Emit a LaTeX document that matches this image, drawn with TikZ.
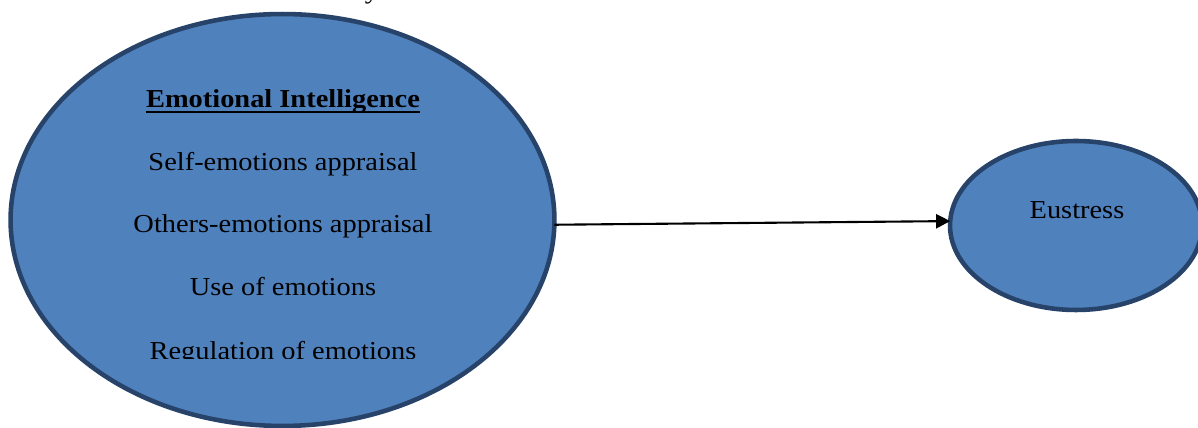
\documentclass[tikz,border=0pt]{standalone}
\usepackage{fontspec}
\setmainfont{Liberation Serif}[FakeStretch=1.1]
\usetikzlibrary{arrows.meta,shapes.geometric}
\definecolor{efill}{HTML}{4F81BD}
\definecolor{edraw}{HTML}{27436A}
\begin{document}
\begin{tikzpicture}[x=0.02cm,y=-0.02cm,
  bubble/.style={ellipse,draw=edraw,fill=efill,line width=2.6pt,inner sep=0pt,outer sep=0pt},
  txt/.style={anchor=base,inner sep=0pt,text=black,font=\fontsize{14.7}{17}\selectfont},
  conn/.style={draw=black,line width=1.2pt,-{Triangle[length=8pt,width=8pt]}}]
\useasboundingbox (0,0) rectangle (1198,428);
\clip (0,0) rectangle (1198,428);
\fill[white] (0,0) rectangle (1198,428);
\node[txt] (frag) at (372,-1.5) {y};
\node[bubble,minimum width=10.88cm,minimum height=8.24cm] (ei) at (282.5,220) {};
\node[bubble,minimum width=5.04cm,minimum height=3.38cm] (eu) at (1076,225.5) {};
\node[txt,font=\fontsize{14.7}{17}\selectfont\bfseries] (eit) at (283,108) {Emotional Intelligence};
\draw[line width=0.85pt] ([yshift=-2.4pt]eit.base west) -- ([yshift=-2.4pt]eit.base east);
\node[txt] (l1) at (283,171) {Self-emotions appraisal};
\node[txt] (l2) at (283,233) {Others-emotions appraisal};
\node[txt] (l3) at (283,296) {Use of emotions};
\begin{scope}
\clip (0,0) rectangle (1198,359);
\node[txt] (l4) at (283,360) {Regulation of emotions};
\end{scope}
\node[txt] (eut) at (1077,219) {Eustress};
\draw[conn] (ei.-1) -- (eu.178);
\end{tikzpicture}
\end{document}
